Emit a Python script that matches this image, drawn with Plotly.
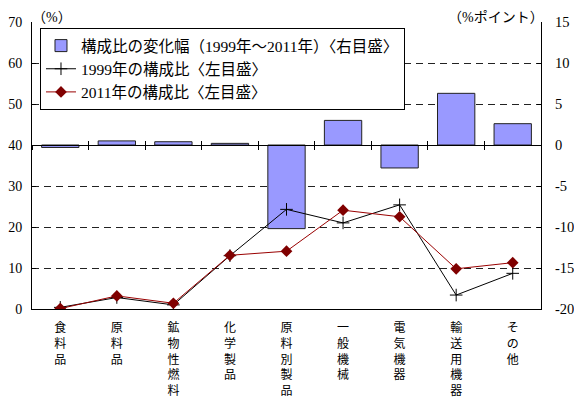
import plotly.graph_objects as go

categories = ['食料品', '原料品', '鉱物性燃料', '化学製品', '原料別製品',
              '一般機械', '電気機器', '輸送用機器', 'その他']
share_1999 = [0.4, 2.8, 1.0, 13.0, 24.3, 21.0, 25.4, 3.4, 8.7]
share_2011 = [0.1, 3.2, 1.4, 13.1, 14.1, 24.1, 22.5, 9.8, 11.3]
change = [-0.3, 0.5, 0.4, 0.2, -10.2, 3.0, -2.8, 6.3, 2.6]

left_ticks = [0, 10, 20, 30, 40, 50, 60, 70]
right_ticks = [-20, -15, -10, -5, 0, 5, 10, 15]

FONT = "Liberation Serif, Noto Sans CJK JP, serif"
tick_text = ['<br>'.join(list(c)) for c in categories]

fig = go.Figure()
fig.add_trace(go.Bar(
    x=categories, y=change, name='構成比の変化幅（1999年～2011年）〈右目盛〉',
    marker=dict(color='#9999FF', line=dict(color='#222222', width=1)),
    width=0.66, xaxis='x', yaxis='y'))
fig.add_trace(go.Scatter(
    x=categories, y=share_1999, name='1999年の構成比〈左目盛〉',
    mode='lines+markers', line=dict(color='black', width=1),
    marker=dict(symbol='cross-thin', size=9, line=dict(color='black', width=1)),
    xaxis='x', yaxis='y2'))
fig.add_trace(go.Scatter(
    x=categories, y=share_2011, name='2011年の構成比〈左目盛〉',
    mode='lines+markers', line=dict(color='#990000', width=1),
    marker=dict(symbol='diamond', size=9, color='#800000'),
    xaxis='x', yaxis='y2'))
# dummy traces to carry the category boundary ticks on the zero line
for ax in ['x2', 'x3']:
    fig.add_trace(go.Scatter(x=categories, y=[None] * len(categories),
                             xaxis=ax, yaxis='y', showlegend=False,
                             hoverinfo='skip', mode='lines'))

zero_pos = (0 - right_ticks[0]) / (right_ticks[-1] - right_ticks[0])
top_pos = 1 + 14 / 287

fig.update_layout(
    width=574, height=395,
    margin=dict(l=24, r=41, t=14, b=94, autoexpand=False),
    paper_bgcolor='white', plot_bgcolor='white',
    font=dict(family=FONT, size=14, color='black'),
    showlegend=True,
    legend=dict(x=0.0157, y=0.979, xanchor='left', yanchor='top',
                bordercolor='black', borderwidth=1, bgcolor='white',
                font=dict(size=15.5, family=FONT)),
    xaxis=dict(type='category', categoryorder='array', categoryarray=categories,
               range=[-0.5, 8.5], tickvals=categories, ticktext=tick_text,
               ticks='outside', ticklen=8, tickcolor='rgba(0,0,0,0)',
               tickfont=dict(size=12), showline=True, linecolor='black',
               linewidth=1, showgrid=False, zeroline=False, automargin=False),
    xaxis2=dict(type='category', categoryorder='array', categoryarray=categories,
                range=[-0.5, 8.5], overlaying='x', anchor='free', position=zero_pos,
                side='bottom', tickson='boundaries', ticks='inside', ticklen=4,
                tickcolor='black', showticklabels=False, showline=True,
                linecolor='black', linewidth=1, showgrid=False, zeroline=False,
                automargin=False),
    xaxis3=dict(type='category', categoryorder='array', categoryarray=categories,
                range=[-0.5, 8.5], overlaying='x', anchor='free', position=zero_pos,
                side='bottom', tickson='boundaries', ticks='outside', ticklen=4,
                tickcolor='black', showticklabels=False, showline=False,
                showgrid=False, zeroline=False, automargin=False),
    yaxis=dict(side='right', range=[right_ticks[0], right_ticks[-1]],
               tickvals=right_ticks, ticktext=[str(v) for v in right_ticks],
               ticks='inside', ticklen=4, tickcolor='black',
               showline=True, linecolor='black', linewidth=1,
               showgrid=True, gridcolor='#222222', griddash='7px,5px', gridwidth=1,
               zeroline=False, ticklabelstandoff=10, tickfont=dict(size=14.5),
               automargin=False),
    yaxis2=dict(side='left', overlaying='y', range=[left_ticks[0], left_ticks[-1]],
                tickvals=left_ticks, ticks='inside', ticklen=4, tickcolor='black',
                showline=True, linecolor='black', linewidth=1, showgrid=False,
                zeroline=False, ticklabelstandoff=6, tickfont=dict(size=14),
                automargin=False),
    annotations=[
        dict(text='（%）', xref='paper', yref='paper', x=0.04, y=top_pos,
             xanchor='center', yanchor='top', showarrow=False,
             font=dict(size=14)),
        dict(text='（%ポイント）', xref='paper', yref='paper', x=0.912, y=top_pos,
             xanchor='center', yanchor='top', showarrow=False,
             font=dict(size=14)),
    ],
)

fig.write_html("out.html")
